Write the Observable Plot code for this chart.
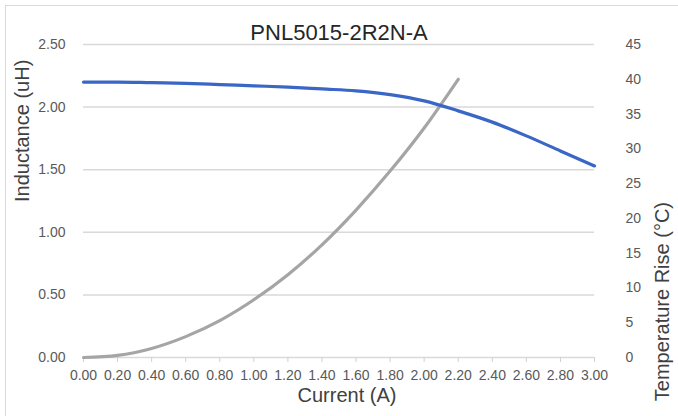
<!DOCTYPE html>
<html>
<head>
<meta charset="utf-8">
<script src="https://cdn.jsdelivr.net/npm/d3@7"></script>
<script src="https://cdn.jsdelivr.net/npm/@observablehq/plot@0.6"></script>
<style>
  html, body { margin: 0; padding: 0; background: #fff; }
  svg { display: block; }
</style>
</head>
<body>
<div id="chart"></div>
<script>
const title = "PNL5015-2R2N-A";
const xLabel = "Current (A)";
const yLeftLabel = "Inductance (uH)";
const yRightLabel = "Temperature Rise (°C)";

// Inductance curve (uH) vs current (A)
const indCurrent = [0.0, 0.2, 0.4, 0.6, 0.8, 1.0, 1.2, 1.4, 1.6, 1.8, 2.0, 2.2, 2.4, 2.6, 2.8, 3.0];
const inductance = [2.20, 2.20, 2.195, 2.19, 2.18, 2.17, 2.16, 2.145, 2.13, 2.10, 2.05, 1.97, 1.88, 1.77, 1.65, 1.53];

// Temperature rise (°C) vs current (A)
const tempCurrent = [0.0, 0.2, 0.4, 0.6, 0.8, 1.0, 1.2, 1.4, 1.6, 1.8, 2.0, 2.2];
const tempRise = [0.0, 0.3, 1.3, 3.0, 5.3, 8.3, 11.9, 16.2, 21.2, 26.8, 33.0, 40.0];

// Tick labels
const xTicks = [0.0, 0.2, 0.4, 0.6, 0.8, 1.0, 1.2, 1.4, 1.6, 1.8, 2.0, 2.2, 2.4, 2.6, 2.8, 3.0];
const yLeftTicks = [0.0, 0.5, 1.0, 1.5, 2.0, 2.5];
const yRightTicks = [0, 5, 10, 15, 20, 25, 30, 35, 40, 45];

const yMax = 2.5, tMax = 45;
const t2y = t => t * yMax / tMax;

const indData = indCurrent.map((c, i) => ({c, v: inductance[i]}));
const tempData = tempCurrent.map((c, i) => ({c, t: tempRise[i]}));

const font = "'Liberation Sans', Arial, Helvetica, sans-serif";
const tickColor = "#595959";

const chart = Plot.plot({
  width: 678,
  height: 416,
  marginLeft: 83,
  marginRight: 84,
  marginTop: 44,
  marginBottom: 59,
  style: {fontFamily: font, background: "#fff"},
  x: {domain: [0, 3]},
  y: {domain: [0, yMax]},
  marks: [
    Plot.ruleY(yLeftTicks, {stroke: "#d9d9d9", strokeWidth: 1.5}),
    Plot.axisY(yLeftTicks, {anchor: "left", tickSize: 0, tickPadding: 18, tickFormat: d => d.toFixed(2), fontSize: 14, fill: tickColor, label: null}),
    Plot.axisY(yRightTicks.map(t2y), {anchor: "right", tickSize: 0, tickPadding: 31, tickFormat: d => String(Math.round(d * tMax / yMax)), fontSize: 14, fill: tickColor, label: null}),
    Plot.axisX(xTicks, {tickSize: 5, stroke: "#d0d0d0", fill: tickColor, tickPadding: 8, tickFormat: d => d.toFixed(2), fontSize: 14, label: null}),
    Plot.line(tempData, {x: "c", y: d => t2y(d.t), stroke: "#a5a5a5", strokeWidth: 3.2, curve: "monotone-x"}),
    Plot.line(indData, {x: "c", y: "v", stroke: "#3a66c6", strokeWidth: 3.2, curve: "monotone-x"}),
    Plot.text([title], {frameAnchor: "top", dy: -20, fontSize: 22, fill: "#262626"}),
    Plot.text([xLabel], {frameAnchor: "bottom", dy: 44, dx: 8, fontSize: 20, fill: "#404040"}),
    Plot.text([yLeftLabel], {frameAnchor: "left", dx: -61, dy: 1, rotate: -90, fontSize: 20, fill: "#404040"}),
    Plot.text([yRightLabel], {frameAnchor: "right", dx: 68, dy: 1, rotate: -90, fontSize: 20, fill: "#404040"})
  ]
});

d3.select(chart).insert("rect", ":first-child")
  .attr("x", 5.5).attr("y", 5.5).attr("width", 700).attr("height", 500)
  .attr("fill", "none").attr("stroke", "#d9d9d9").attr("stroke-width", 1);

document.getElementById("chart").appendChild(chart);
</script>
</body>
</html>
